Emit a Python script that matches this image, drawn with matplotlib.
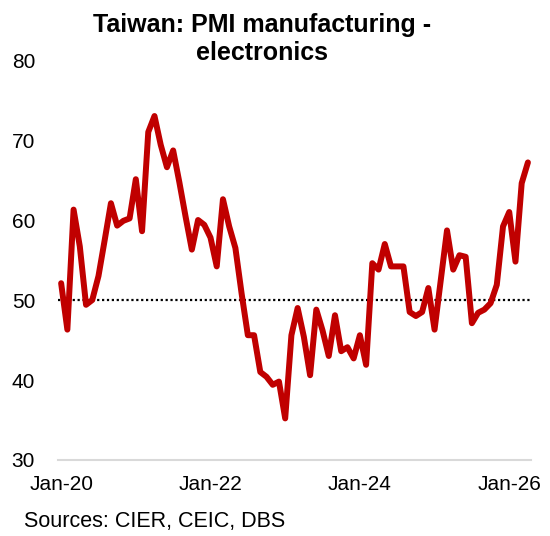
import matplotlib
matplotlib.use("Agg")
import matplotlib.pyplot as plt
import numpy as np

# Monthly PMI (electronics), Jan-20 .. Apr-26
pmi = [
    52.1, 46.3, 61.3, 56.7, 49.4, 50.0, 53.0, 57.5, 62.1, 59.3,
    59.9, 60.2, 65.1, 58.6, 71.0, 73.0, 69.4, 66.6, 68.7, 64.7,
    60.4, 56.3, 60.0, 59.4, 57.8, 54.2, 62.6, 59.2, 56.5, 50.8,
    45.6, 45.6, 41.0, 40.4, 39.4, 39.8, 35.2, 45.6, 49.0, 45.4,
    40.6, 48.8, 46.2, 43.0, 48.1, 43.6, 44.1, 42.7, 45.6, 41.9,
    54.6, 53.8, 57.0, 54.2, 54.2, 54.2, 48.5, 48.0, 48.5, 51.5,
    46.3, 52.5, 58.7, 53.8, 55.6, 55.4, 47.1, 48.4, 48.8, 49.6,
    51.9, 59.2, 61.0, 54.8, 64.6, 67.2,
]
tick_pos = [0, 24, 48, 72]
tick_labels = ["Jan-20", "Jan-22", "Jan-24", "Jan-26"]
y_ticks = [30, 40, 50, 60, 70, 80]
threshold = 50

plt.rcParams["font.family"] = ["Liberation Sans", "DejaVu Sans"]

fig = plt.figure(figsize=(5.5, 5.36), dpi=100)
ax = fig.add_axes([0.1055, 0.1418, 0.86, 0.7462])

x = np.arange(len(pmi))
ax.axhline(threshold, color="black", lw=1.6, ls=(0, (1, 1.2)), zorder=1)
ax.plot(x, pmi, color="#C00000", lw=4.3, solid_joinstyle="round",
        solid_capstyle="round", zorder=3)

ax.set_xlim(-0.5, len(pmi) - 0.5)
ax.set_ylim(30, 80)
ax.set_yticks(y_ticks)
ax.set_xticks(tick_pos)
ax.set_xticklabels(tick_labels)
ax.tick_params(axis="both", length=0, labelsize=15, colors="black")
ax.tick_params(axis="y", pad=16.5)
ax.tick_params(axis="x", pad=11)

for side in ("top", "right", "left"):
    ax.spines[side].set_visible(False)
ax.spines["bottom"].set_color("#D9D9D9")
ax.spines["bottom"].set_linewidth(1.5)

fig.text(262 / 550, 1 - 39 / 536, "Taiwan: PMI manufacturing -\nelectronics",
         ha="center", va="center", fontsize=18, fontweight="bold",
         linespacing=1.2)
fig.text(24 / 550, 1 - 522 / 536, "Sources: CIER, CEIC, DBS",
         ha="left", va="center", fontsize=15.5)

fig.savefig("out.png", dpi=100)
